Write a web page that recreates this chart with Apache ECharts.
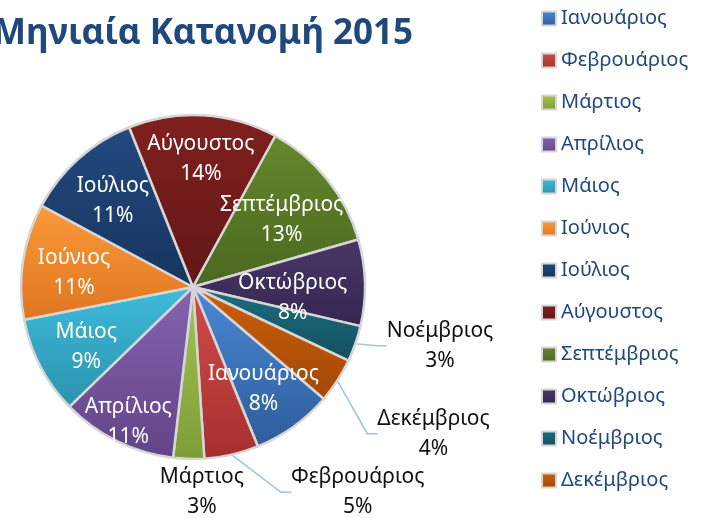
<!DOCTYPE html>
<html>
<head>
<meta charset="utf-8">
<script src="https://cdn.jsdelivr.net/npm/echarts@6/dist/echarts.min.js"></script>
<style>
    * { margin: 0; padding: 0; }
    #chart { width: 707px; height: 518px; background: #fff; }
</style>
</head>
<body>
<div id="chart"></div>
<script>
    // data
    var months = ['Ιανουάριος', 'Φεβρουάριος', 'Μάρτιος', 'Απρίλιος', 'Μάιος', 'Ιούνιος',
        'Ιούλιος', 'Αύγουστος', 'Σεπτέμβριος', 'Οκτώβριος', 'Νοέμβριος', 'Δεκέμβριος'];
    var shares = [7.6, 5.1, 2.9, 10.9, 9.2, 10.9, 11.1, 14.0, 12.6, 8.1, 3.4, 4.2];
    var titleText = 'Μηνιαία Κατανομή 2015';

    // slices with a leader line label, and the one label set just under the pie
    var lineLabels = ['Φεβρουάριος', 'Νοέμβριος', 'Δεκέμβριος'];
    var belowLabels = ['Μάρτιος'];
    // nudges for the leader-line labels [dx, dy]
    var labelShift = {
        'Φεβρουάριος': [41, 23],
        'Νοέμβριος': [7, -3],
        'Δεκέμβριος': [26, 32]
    };
    // label distance from centre (share of radius), default 0.7
    var labelRadius = {
        'Οκτώβριος': 0.58,
        'Απρίλιος': 0.85,
        'Αύγουστος': 0.77,
        'Σεπτέμβριος': 0.66,
        'Μάρτιος': 1.18
    };

    // Excel-like gradient palette (top / bottom)
    var topColors = ['#4a89d6', '#d04e4b', '#a3c452', '#8564b0', '#3fbbdc', '#fb9a3a',
        '#22497f', '#80201f', '#65882c', '#4a3768', '#1c6f82', '#cc5f0a'];
    var bottomColors = ['#2e5c9a', '#a52f2d', '#7e9d38', '#634387', '#2a93ad', '#df7520',
        '#17355f', '#621717', '#4b6720', '#352650', '#134f5e', '#a24806'];

    var font = 'Noto Sans';
    var startAngle = -40.5;

    var total = shares.reduce(function (a, b) { return a + b; }, 0);
    function pct(v) { return Math.round(v / total * 100) + '%'; }

    var pieData = months.map(function (m, i) {
        var withLine = lineLabels.indexOf(m) >= 0;
        return {
            name: m,
            value: shares[i],
            itemStyle: {
                color: new echarts.graphic.LinearGradient(0, 0, 0, 1, [
                    {offset: 0, color: topColors[i]},
                    {offset: 1, color: bottomColors[i]}
                ])
            },
            label: {show: withLine},
            labelLine: {show: withLine}
        };
    });

    // text labels placed on polar coords at each slice's middle angle
    var cum = 0;
    var textLabels = [];
    months.forEach(function (m, i) {
        var mid = cum + shares[i] / 2;
        cum += shares[i];
        if (lineLabels.indexOf(m) >= 0) return;
        var below = belowLabels.indexOf(m) >= 0;
        textLabels.push({
            name: m,
            value: [labelRadius[m] || 0.7, mid],
            label: below ? {color: '#111', offset: [14, 2]}
                : {color: '#fff', offset: [0, m === 'Οκτώβριος' ? 14 : 4]}
        });
    });

    var labelText = {
        fontFamily: font,
        fontSize: 21,
        rich: {
            n: {fontFamily: font, fontSize: 21, lineHeight: 30, align: 'center'},
            p: {fontFamily: font, fontSize: 21, lineHeight: 30, align: 'center'}
        }
    };

    var option = {
        backgroundColor: '#fff',
        animation: false,
        title: {
            text: titleText,
            left: -12,
            top: 12,
            textStyle: {
                fontFamily: font,
                fontSize: 35,
                fontWeight: 'bold',
                color: '#1f497d'
            }
        },
        legend: {
            orient: 'vertical',
            left: 536,
            top: 3,
            icon: 'rect',
            itemWidth: 14,
            itemHeight: 14,
            itemGap: 21,
            data: months,
            textStyle: {
                fontFamily: font,
                fontSize: 20,
                lineHeight: 21,
                color: '#1f497d'
            }
        },
        polar: {
            center: [193, 287],
            radius: 172
        },
        angleAxis: {
            type: 'value',
            min: 0,
            max: total,
            startAngle: startAngle,
            clockwise: true,
            show: false
        },
        radiusAxis: {
            type: 'value',
            min: 0,
            max: 1,
            show: false
        },
        series: [
            {
                type: 'pie',
                center: [193, 287],
                radius: [0, 172],
                startAngle: startAngle,
                clockwise: true,
                percentPrecision: 0,
                data: pieData,
                itemStyle: {
                    borderColor: '#d6d6d6',
                    borderWidth: 2.5
                },
                label: Object.assign({
                    position: 'outside',
                    formatter: '{n|{b}}\n{p|{d}%}',
                    color: '#111'
                }, labelText),
                labelLine: {
                    length: 15,
                    length2: 10,
                    lineStyle: {color: '#9dc3e6', width: 1.5}
                },
                labelLayout: function (params) {
                    var off = labelShift[months[params.dataIndex]];
                    if (!off) return {};
                    var r = params.labelRect;
                    return {
                        x: r.x + off[0],
                        y: r.y + r.height / 2 + off[1],
                        align: 'left',
                        verticalAlign: 'middle'
                    };
                }
            },
            {
                type: 'scatter',
                coordinateSystem: 'polar',
                symbolSize: 0,
                silent: true,
                clip: false,
                z: 10,
                itemStyle: {opacity: 1},
                data: textLabels,
                label: Object.assign({
                    show: true,
                    position: 'inside',
                    formatter: function (p) {
                        return '{n|' + p.name + '}\n{p|' + pct(shares[months.indexOf(p.name)]) + '}';
                    }
                }, labelText)
            }
        ]
    };

    var myChart = echarts.init(document.getElementById('chart'));
    myChart.setOption(option);
</script>
</body>
</html>
